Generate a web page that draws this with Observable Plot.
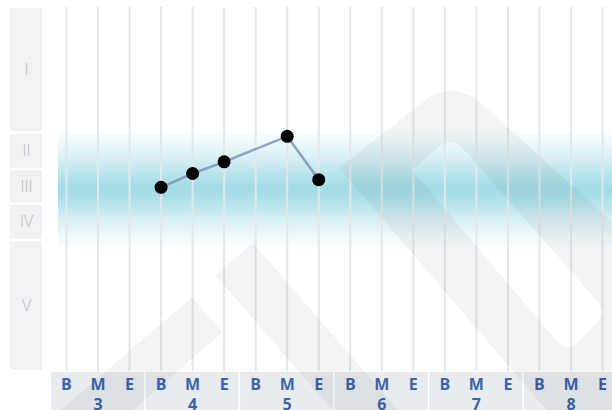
<!DOCTYPE html>
<html>
<head>
<meta charset="utf-8">
<script src="https://cdn.jsdelivr.net/npm/d3@7"></script>
<script src="https://cdn.jsdelivr.net/npm/@observablehq/plot@0.6"></script>
<style>
  html, body { margin: 0; padding: 0; background: #fff; }
  #wrap { position: relative; width: 612px; height: 410px; overflow: hidden; }
  #wrap svg.wm { position: absolute; left: 0; top: 0; pointer-events: none; }
</style>
</head>
<body>
<div id="wrap"></div>
<script>
// ---- data ----
const groups = [3, 4, 5, 6, 7, 8];
const phases = ["B", "M", "E"];
const bandLabels = ["I", "II", "III", "IV", "V"];
const bandTops = [100, 65.5, 55.5, 46, 36];
const bandBottoms = [65.5, 55.5, 46, 36, 0];
const pointKeys = ["4B", "4M", "4E", "5M", "5E"];
const pointValues = [50.6, 54.4, 57.6, 64.6, 52.7];
const normLow = 33;
const normHigh = 67;

// ---- derived tables ----
const ticks = groups.flatMap((g, gi) => phases.map((p, pi) => ({key: `${g}${p}`, i: gi * 3 + pi, phase: p, group: g})));
const idx = Object.fromEntries(ticks.map(t => [t.key, t.i]));
const points = pointKeys.map((k, j) => ({i: idx[k], v: pointValues[j]}));
const groupRows = groups.map((g, gi) => ({g, x1: gi * 3 - 0.5, x2: gi * 3 + 2.5, mid: gi * 3 + 1}));
const bands = bandLabels.map((l, j) => ({label: l, top: bandTops[j], bottom: bandBottoms[j], mid: (bandTops[j] + bandBottoms[j]) / 2}));
const yAxisBottom = -11;

const defs = () => {
  const ns = "http://www.w3.org/2000/svg";
  const d = document.createElementNS(ns, "defs");
  const g = document.createElementNS(ns, "linearGradient");
  g.setAttribute("id", "normband");
  g.setAttribute("x1", "0"); g.setAttribute("x2", "0");
  g.setAttribute("y1", "0"); g.setAttribute("y2", "1");
  const stops = [[0, 0], [0.1, 0.12], [0.25, 0.38], [0.38, 0.7], [0.5, 0.92], [0.62, 0.7], [0.75, 0.38], [0.9, 0.12], [1, 0]];
  for (const [o, a] of stops) {
    const s = document.createElementNS(ns, "stop");
    s.setAttribute("offset", o);
    s.setAttribute("stop-color", "#98d8e3");
    s.setAttribute("stop-opacity", a);
    g.appendChild(s);
  }
  d.appendChild(g);
  return d;
};

const chart = Plot.plot({
  width: 612,
  height: 410,
  marginTop: 0, marginRight: 0, marginBottom: 0, marginLeft: 0,
  x: {type: "linear", domain: [-0.5, 17.5], range: [50.2, 617.8], axis: null},
  y: {type: "linear", domain: [0, 100], range: [371, 7], axis: null},
  style: {background: "transparent"},
  marks: [
    defs,
    // left level column
    Plot.rect(bands, {y1: "bottom", y2: "top", insetLeft: 10, insetRight: 570, insetTop: 1.2, insetBottom: 1.2, fill: "#f1f2f4"}),
    Plot.text(bands, {y: "mid", text: "label", frameAnchor: "left", dx: 26, textAnchor: "middle", fill: "#b9b9b9", fontSize: 16, fontWeight: 300, fontFamily: "Open Sans"}),
    // norm band gradient
    Plot.rect([{lo: normLow, hi: normHigh}], {y1: "lo", y2: "hi", insetLeft: 58, fill: "url(#normband)"}),
    // grid
    Plot.ruleX(ticks, {x: "i", y1: 0, y2: 100, stroke: "#e3e7eb", strokeWidth: 2}),
    // x axis background groups
    Plot.rect(groupRows, {x1: "x1", x2: "x2", y1: yAxisBottom, y2: 0, insetLeft: 0.8, insetRight: 0.8, insetTop: 1, fill: "#e8ecef"}),
    Plot.text(ticks, {x: "i", y: 0, dy: 13, text: "phase", fill: "#3b63ae", fontSize: 16, fontWeight: 700, fontFamily: "Open Sans"}),
    Plot.text(groupRows, {x: "mid", y: 0, dy: 33, text: d => String(d.g), fill: "#3b63ae", fontSize: 16, fontWeight: 700, fontFamily: "Open Sans"}),
    // series
    Plot.line(points, {x: "i", y: "v", stroke: "#7d95b3", strokeWidth: 2.5, strokeOpacity: 0.85}),
    Plot.dot(points, {x: "i", y: "v", r: 6.5, fill: "#000", stroke: "none"})
  ]
});
const wrap = document.getElementById("wrap");
wrap.appendChild(chart);

// decorative watermark (logo) overlay
const wm = document.createElementNS("http://www.w3.org/2000/svg", "svg");
wm.setAttribute("class", "wm");
wm.setAttribute("width", 612);
wm.setAttribute("height", 410);
wm.innerHTML = `
<g fill="#000" fill-opacity="0.045" fill-rule="evenodd">
  <path d="M339,168 L428,98 Q453,82 478,100 L612,222 L612,412 L548,412 Z
           M412,170 L440,146 Q452,137 464,150 L598,302 Q606,313 597,322 L578,342 Q566,353 556,340 Z"/>
  <path d="M215,275 L253,243 L400,412 L334,412 Z"/>
  <path d="M192,297 L223,332 L130,413 L57,413 Z"/>
</g>`;
wrap.appendChild(wm);
</script>
</body>
</html>
